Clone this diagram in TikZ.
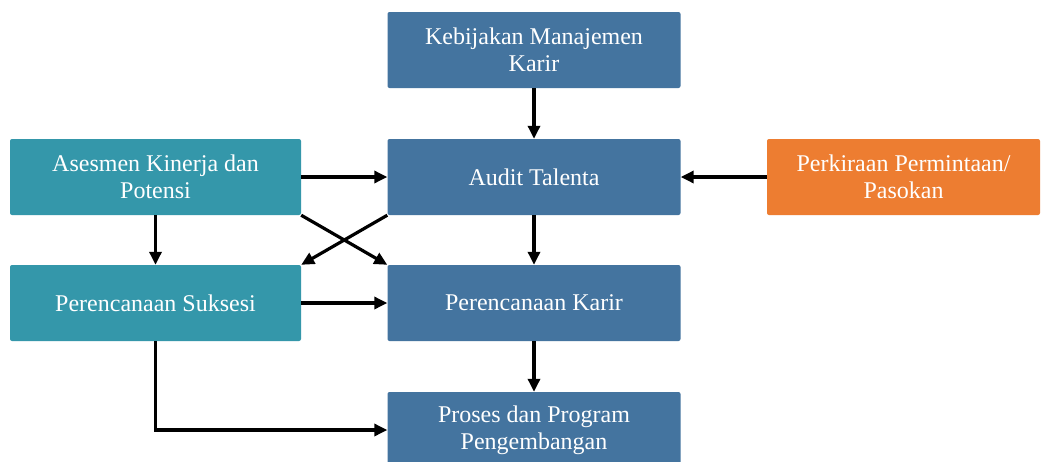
\documentclass[tikz,border=0pt]{standalone}
\usepackage{fontspec}
\setmainfont{Liberation Serif}
\usetikzlibrary{arrows.meta}
\definecolor{boxblue}{HTML}{44749F}
\definecolor{boxteal}{HTML}{3497AA}
\definecolor{boxorange}{HTML}{ED7D31}
\tikzset{
  card/.style={rectangle, rounded corners=2pt, draw=none, text=white, align=center,
    font=\fontsize{24}{27}\selectfont, inner sep=0pt, minimum height=76},
  bluecard/.style={card, fill=boxblue, minimum width=293},
  tealcard/.style={card, fill=boxteal, minimum width=291},
  orangecard/.style={card, fill=boxorange, minimum width=273},
  flow/.style={line width=3.2pt, -{Triangle[length=13pt,width=12pt]}, black}
}
\begin{document}
\begin{tikzpicture}[x=1pt,y=-1pt]
\clip (0,0) rectangle (1046,461);
\fill[white] (0,0) rectangle (1046,461);

\node[bluecard] (keb) at (534,50) {Kebijakan Manajemen\\Karir};
\node[bluecard] (aud) at (534,177) {Audit Talenta};
\node[bluecard] (kar) at (534,303) {Perencanaan Karir};
\node[bluecard] (pro) at (534,430) {Proses dan Program\\Pengembangan};
\node[tealcard] (ase) at (155.5,177) {Asesmen Kinerja dan\\Potensi};
\node[tealcard] (suk) at (155.5,303) {Perencanaan Suksesi};
\node[orangecard] (prk) at (903.5,177) {Perkiraan Permintaan/\\Pasokan};

\draw[flow] (keb.south) -- (aud.north);
\draw[flow] (ase.east) -- (aud.west);
\draw[flow] (prk.west) -- (aud.east);
\draw[flow] (ase.south east) -- (kar.north west);
\draw[flow] (aud.south west) -- (suk.north east);
\draw[flow] (ase.south) -- (suk.north);
\draw[flow] (aud.south) -- (kar.north);
\draw[flow] (suk.east) -- (kar.west);
\draw[flow] (kar.south) -- (pro.north);
\draw[flow] (suk.south) |- (pro.west);
\end{tikzpicture}
\end{document}
